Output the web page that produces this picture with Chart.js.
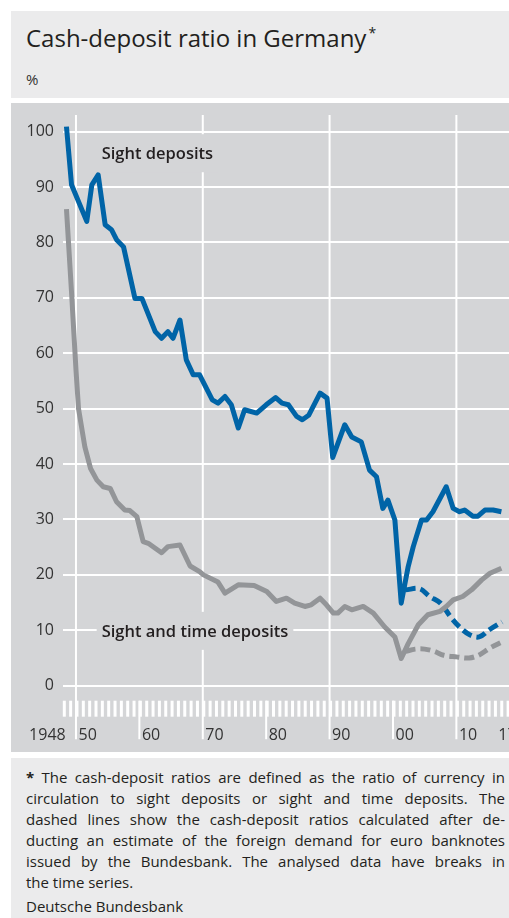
<!DOCTYPE html>
<html><head><meta charset="utf-8">
<script src="https://cdn.jsdelivr.net/npm/chart.js@4.4.1/dist/chart.umd.min.js"></script>
<style>
html,body{margin:0;padding:0;background:#fff;width:509px;height:918px;overflow:hidden;font-family:'Open Sans',sans-serif;color:#231f20;}
.panel{position:absolute;left:11px;right:0;}
#head{top:11px;height:86.7px;background:#ebebec;}
#plot{top:103.3px;height:648.4px;background:#d4d5d7;}
#foot{top:758.3px;height:160px;background:#ebebec;}
#title{position:absolute;left:26px;top:25.7px;font-size:24px;line-height:1;white-space:nowrap;}
#title .ast{font-size:14px;position:relative;top:-9px;margin-left:2px;}
#unit{position:absolute;left:26px;top:71.7px;font-size:15px;line-height:1;color:#333;}
#cv{position:absolute;left:0;top:0;}
#note{position:absolute;left:26px;top:766.7px;width:479px;font-size:15px;line-height:21px;color:#231f20;}
#note .j{text-align:justify;text-align-last:justify;}
#note .src{margin-top:3px;}
</style>
</head>
<body>
<div class="panel" id="head"></div>
<div class="panel" id="plot"></div>
<div class="panel" id="foot"></div>
<div id="title">Cash-deposit ratio in Germany<span class="ast">*</span></div>
<div id="unit">%</div>
<div id="note">
<div class="j"><b>*</b> The cash-deposit ratios are defined as the ratio of currency in</div>
<div class="j">circulation to sight deposits or sight and time deposits. The</div>
<div class="j">dashed lines show the cash-deposit ratios calculated after de-</div>
<div class="j">ducting an estimate of the foreign demand for euro banknotes</div>
<div class="j">issued by the Bundesbank. The analysed data have breaks in</div>
<div>the time series.</div>
<div class="src">Deutsche Bundesbank</div>
</div>
<canvas id="cv" width="509" height="918"></canvas>
<script>
// ---- data ----
const sightYears = [1948.5,1949.3,1951.7,1952.5,1953.5,1954.6,1955.6,1956.4,1957.5,1959.3,1960.4,1962.5,1963.5,1964.5,1965.3,1966.4,1967.4,1968.5,1969.5,1971.5,1972.4,1973.5,1974.5,1975.6,1976.6,1978.5,1980.0,1981.5,1982.5,1983.5,1984.8,1985.7,1986.7,1988.5,1989.6,1990.5,1992.4,1993.5,1995.0,1996.3,1997.4,1998.4,1999.2,2000.3,2001.3,2002.4,2003.2,2004.5,2005.3,2006.3,2008.4,2009.5,2010.5,2011.3,2012.6,2013.4,2014.5,2015.8,2017.1];
const sightValues = [100.9,90.4,83.8,90.4,92.2,83.2,82.3,80.5,79.2,69.9,69.9,63.9,62.7,63.9,62.7,66.0,58.8,56.1,56.1,51.6,51.0,52.2,50.7,46.5,49.8,49.2,50.7,52.0,51.0,50.7,48.6,48.0,48.8,52.8,51.9,41.2,47.1,44.9,44.0,38.9,37.7,32.0,33.5,29.9,14.9,21.5,25.1,29.9,29.9,31.4,35.9,32.0,31.4,31.7,30.6,30.6,31.7,31.7,31.4];

const sightTimeYears = [1948.5,1949.3,1950.0,1950.4,1951.4,1952.3,1953.3,1954.3,1955.4,1956.4,1957.7,1958.5,1959.6,1960.6,1961.4,1962.5,1963.5,1964.5,1966.4,1968.0,1969.5,1970.1,1972.4,1973.5,1975.6,1978.1,1980.1,1981.6,1983.2,1984.5,1986.1,1987.1,1988.5,1989.5,1990.6,1991.3,1992.4,1993.5,1995.3,1996.9,1998.7,2000.3,2001.3,2002.4,2004.0,2005.5,2007.4,2008.4,2009.5,2011.0,2012.4,2014.0,2015.3,2017.1];
const sightTimeValues = [86.0,71.0,57.0,50.0,43.1,39.2,37.1,35.9,35.6,33.2,31.7,31.6,30.5,26.0,25.7,24.8,24.0,25.1,25.4,21.6,20.6,20.0,18.7,16.7,18.2,18.1,17.0,15.2,15.8,14.9,14.3,14.6,15.8,14.6,13.1,13.1,14.3,13.7,14.3,13.1,10.6,8.8,4.9,7.6,11.0,12.8,13.4,14.3,15.5,16.1,17.3,19.1,20.3,21.2];

const sightAdjYears = [2002.0,2004.2,2005.8,2007.5,2009.1,2010.6,2012.1,2013.6,2015.2,2017.2];
const sightAdjValues = [17.3,17.5,16.1,14.9,12.4,10.5,9.2,8.8,10.1,11.5];

const sightTimeAdjYears = [2002.0,2003.5,2005.0,2006.5,2008.0,2010.0,2012.0,2013.5,2015.3,2017.2];
const sightTimeAdjValues = [6.2,6.6,6.6,6.2,5.5,5.2,5.0,5.5,6.8,7.9];

const yTickValues = [0,10,20,30,40,50,60,70,80,90,100];
const xTickYears = [1948,1950,1960,1970,1980,1990,2000,2010,2017];
const xTickLabels = ['1948','50','60','70','80','90','00','10','17'];
const fullGridYears = [1950,1970,1990,2010];
const longTickYears = [1960,1980,2000];

// ---- styles ----
const BLUE = '#0064a7';
const GREY = '#939598';
const PLOT_BG = '#d4d5d7';
const TEXT = '#231f20';
const AXIS_TEXT = '#333333';

const pts = (xs, ys) => xs.map((v, i) => ({x: v, y: ys[i]}));

const decor = {
  id: 'decor',
  beforeDraw(chart) {
    const {ctx, chartArea: a, scales: {x, y}} = chart;
    const y0 = y.getPixelForValue(0);
    const tickTop = y0 + 15, tickBot = y0 + 31, lineBot = y0 + 53.5;
    ctx.save();
    ctx.strokeStyle = '#ffffff';
    ctx.lineWidth = 3;
    for (let yr = 1948; yr <= 2018; yr++) {
      const px = x.getPixelForValue(yr) + 1;
      ctx.beginPath(); ctx.moveTo(px, tickTop); ctx.lineTo(px, tickBot); ctx.stroke();
    }
    ctx.lineWidth = 2;
    fullGridYears.forEach(yr => {
      const px = x.getPixelForValue(yr);
      ctx.beginPath(); ctx.moveTo(px, a.top); ctx.lineTo(px, lineBot); ctx.stroke();
    });
    longTickYears.forEach(yr => {
      const px = x.getPixelForValue(yr);
      ctx.beginPath(); ctx.moveTo(px, tickTop); ctx.lineTo(px, lineBot); ctx.stroke();
    });
    // x labels
    ctx.fillStyle = AXIS_TEXT;
    ctx.font = "16px 'Open Sans'";
    ctx.textBaseline = 'alphabetic';
    const base = y0 + 54.3;
    xTickYears.forEach((yr, i) => {
      const px = x.getPixelForValue(yr);
      if (i === 0) { ctx.textAlign = 'right'; ctx.fillText(xTickLabels[i], px + 2.4, base); }
      else if (yr === 2017) { ctx.textAlign = 'left'; ctx.fillText(xTickLabels[i], px - 2.5, base); }
      else { ctx.textAlign = 'left'; ctx.fillText(xTickLabels[i], px + 2.5, base); }
    });
    ctx.restore();
  },
  beforeDatasetsDraw(chart) {
    const {ctx, scales: {x, y}} = chart;
    ctx.save();
    ctx.font = "600 16.5px 'Open Sans'";
    ctx.textBaseline = 'alphabetic';
    ctx.textAlign = 'left';
    const labels = [['Sight deposits', 1954.05, 96.1], ['Sight and time deposits', 1954.05, 9.9]];
    labels.forEach(([t, yr, v]) => {
      const px = x.getPixelForValue(yr), py = y.getPixelForValue(v);
      const w = ctx.measureText(t).width;
      ctx.fillStyle = PLOT_BG;
      ctx.fillRect(px - 5, py - 19, w + 10, 38);
      ctx.fillStyle = TEXT;
      ctx.fillText(t, px, py + 6);
    });
    ctx.restore();
  }
};

Chart.defaults.font.family = "'Open Sans', sans-serif";

new Chart(document.getElementById('cv'), {
  type: 'line',
  data: {
    datasets: [
      {label: 'Sight and time deposits', data: pts(sightTimeYears, sightTimeValues), borderColor: GREY, borderWidth: 5, tension: 0},
      {label: 'Sight deposits', data: pts(sightYears, sightValues), borderColor: BLUE, borderWidth: 5, tension: 0},
      {label: 'Sight and time deposits (adjusted)', data: pts(sightTimeAdjYears, sightTimeAdjValues), borderColor: GREY, borderWidth: 5, borderDash: [10, 5], tension: 0.35},
      {label: 'Sight deposits (adjusted)', data: pts(sightAdjYears, sightAdjValues), borderColor: BLUE, borderWidth: 5, borderDash: [10, 5], tension: 0.35}
    ]
  },
  options: {
    responsive: false,
    animation: false,
    devicePixelRatio: 1,
    layout: {padding: {top: 115, bottom: 179, left: 0, right: 0}},
    plugins: {legend: {display: false}, tooltip: {enabled: false}},
    elements: {point: {radius: 0}, line: {borderJoinStyle: 'round', borderCapStyle: 'butt'}},
    scales: {
      x: {type: 'linear', min: 1948, max: 2018.3, display: false},
      y: {
        min: -9.62, max: 103,
        afterBuildTicks: s => { s.ticks = yTickValues.map(v => ({value: v})); },
        afterFit: s => { s.width = 63.3; },
        grid: {color: '#ffffff', lineWidth: 2, drawTicks: false},
        border: {display: false},
        ticks: {padding: 9.3, color: AXIS_TEXT, font: {size: 16}, callback: v => String(v)}
      }
    }
  },
  plugins: [decor]
});
</script>
</body></html>
